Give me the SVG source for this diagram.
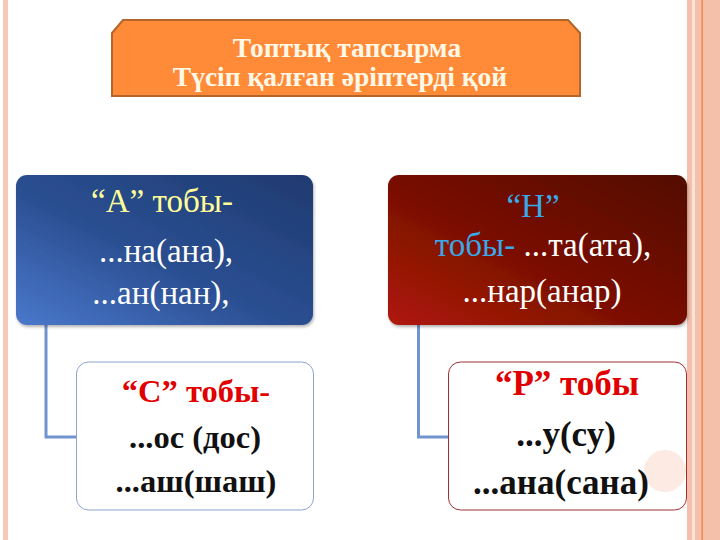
<svg xmlns="http://www.w3.org/2000/svg" width="720" height="540" viewBox="0 0 720 540">
<defs>
<linearGradient id="gBlue" x1="0" y1="1" x2="1" y2="0">
<stop offset="0" stop-color="#4a78cc"/>
<stop offset="0.45" stop-color="#2b4f92"/>
<stop offset="1" stop-color="#1f3a70"/>
</linearGradient>
<linearGradient id="gRed" x1="0" y1="1" x2="1" y2="0">
<stop offset="0" stop-color="#b01a08"/>
<stop offset="0.45" stop-color="#7a1004"/>
<stop offset="1" stop-color="#520a00"/>
</linearGradient>
<filter id="sh" x="-5%" y="-5%" width="110%" height="115%">
<feDropShadow dx="1" dy="2" stdDeviation="1.5" flood-color="#000" flood-opacity="0.3"/>
</filter>
</defs>
<style>
.t{font-family:"Liberation Serif","Times New Roman",serif;text-anchor:middle}
.title{font-size:27.5px;font-weight:bold;fill:#FFF8E6}
.pt{font-size:33px;fill:#ffffff}
.ch{font-size:32.5px;font-weight:bold;fill:#111}
.chp{font-size:35px}
.red{fill:#E00000}
.conn{fill:none;stroke:#7094D0;stroke-width:3}
</style>
<rect width="720" height="540" fill="#ffffff"/>
<rect x="3" y="0" width="5" height="540" fill="#F9C8B4"/>
<rect x="687" y="0" width="33" height="540" fill="#F4C0AA"/>
<rect x="692" y="0" width="3" height="540" fill="#FCE4DA"/>
<rect x="701.5" y="0" width="1.5" height="540" fill="#F08A50"/>
<circle cx="665" cy="471" r="21" fill="#FCEAE3"/>

<g id="connectors">
<path class="conn" d="M46 325 V437 H77"/>
<path class="conn" d="M418.5 325 V437 H449"/>
</g>

<g id="title">
<path d="M112 33 L123 20 H568 L580 33 V96 H112 Z" fill="#FF8A38" stroke="#B5652A" stroke-width="2"/>
<text class="t title" x="347" y="57">Топтық тапсырма</text>
<text class="t title" x="340" y="86">Түсіп қалған әріптерді қой</text>
</g>

<g id="nodeA">
<rect x="16" y="175" width="297" height="150" rx="11" fill="url(#gBlue)" filter="url(#sh)"/>
<text class="t pt" x="162" y="212" style="fill:#FFFF99">“А” тобы-</text>
<text class="t pt" x="166" y="262">...на(ана),</text>
<text class="t pt" x="161" y="304">...ан(нан),</text>
</g>

<g id="nodeC">
<rect x="76.5" y="362" width="237" height="148" rx="12" fill="#ffffff" stroke="#8FA3CC" stroke-width="1"/>
<text class="t ch red" x="196" y="402">“С” тобы-</text>
<text class="t ch" x="195" y="448">...ос (дос)</text>
<text class="t ch" x="196" y="492">...аш(шаш)</text>
</g>

<g id="nodeH">
<rect x="388" y="175" width="299" height="150" rx="11" fill="url(#gRed)" filter="url(#sh)"/>
<text class="t pt" x="533" y="217" style="fill:#3AA8E8">“Н”</text>
<text class="t pt" x="543" y="256"><tspan style="fill:#3AA8E8">тобы- </tspan>...та(ата),</text>
<text class="t pt" x="542" y="302">...нар(анар)</text>
</g>

<g id="nodeP">
<rect x="448.5" y="362" width="238" height="148" rx="12" fill="none" stroke="#A03030" stroke-width="1"/>
<text class="t ch chp red" x="567" y="395">“Р” тобы</text>
<text class="t ch chp" x="566" y="446">...у(су)</text>
<text class="t ch chp" x="561" y="494">...ана(сана)</text>
</g>
</svg>
